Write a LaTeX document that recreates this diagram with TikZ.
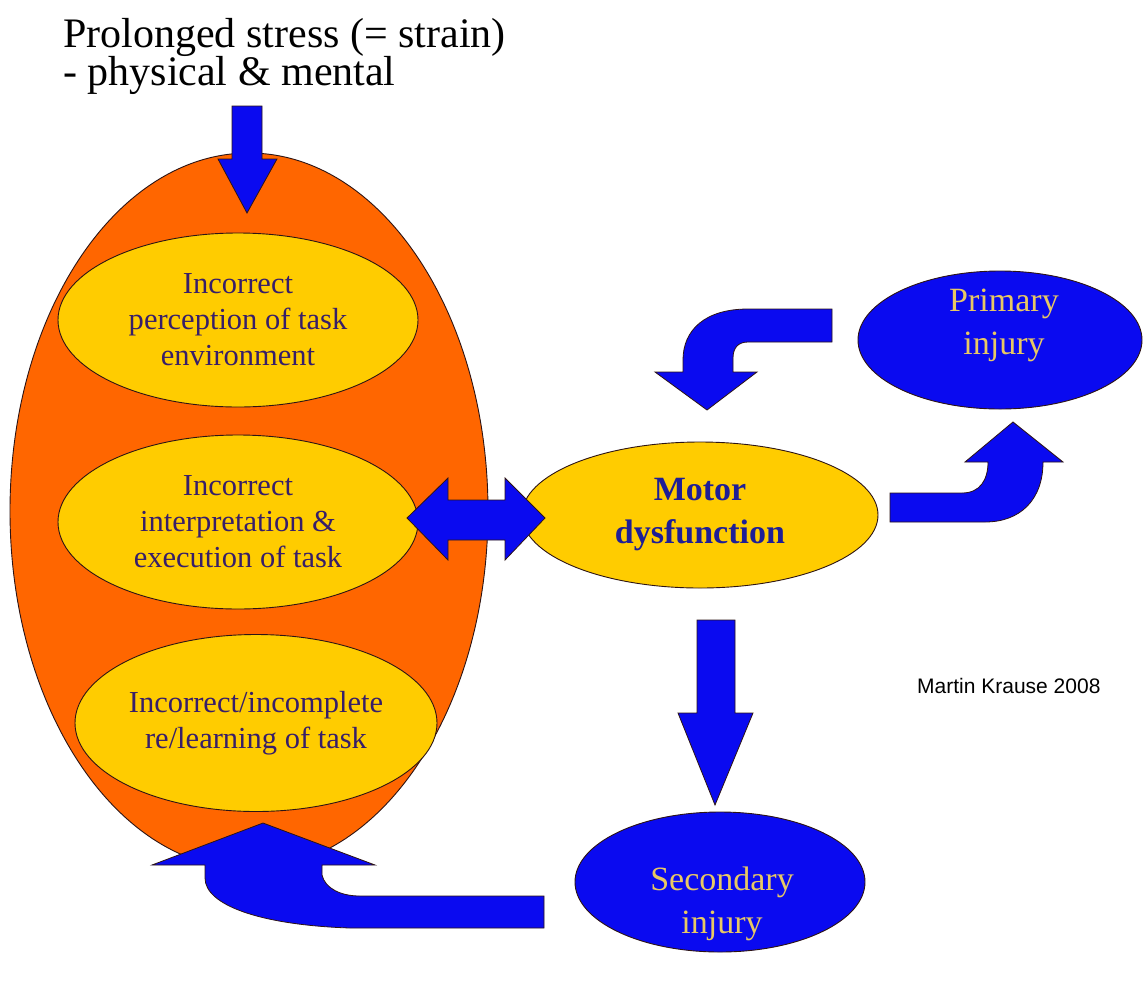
\documentclass[tikz,border=0pt]{standalone}
\usepackage{fontspec}
\setmainfont{Liberation Serif}
\setsansfont{Liberation Sans}
\usetikzlibrary{shapes.geometric}
\definecolor{shellorange}{RGB}{255,102,0}
\definecolor{boxyellow}{RGB}{255,204,0}
\definecolor{flowblue}{RGB}{10,10,240}
\definecolor{inkpurple}{RGB}{55,30,105}
\definecolor{inknavy}{RGB}{30,30,150}
\definecolor{inkgold}{RGB}{232,200,100}
\definecolor{edgeink}{RGB}{45,20,20}

\begin{document}
\begin{tikzpicture}[x=1pt,y=-1pt,
  outline/.style={draw=edgeink, line width=0.9pt},
  oval/.style={ellipse, outline, inner sep=0pt},
  factor/.style={oval, fill=boxyellow, minimum width=360pt, minimum height=174pt,
    text=inkpurple, align=center, font=\fontsize{30.5}{36}\selectfont},
  injury/.style={oval, fill=flowblue},
  injurytext/.style={text=inkgold, align=center, inner sep=0pt,
    font=\fontsize{34}{43}\selectfont},
  blockarrow/.style={fill=flowblue, draw=edgeink, line width=0.8pt, line join=miter}
]
\useasboundingbox[fill=white] (0,0) rectangle (1143,986);

% heading
\node[anchor=base west, inner sep=0pt, font=\fontsize{42}{38}\selectfont] (title1) at (63,47) {Prolonged stress (= strain)};
\node[anchor=base west, inner sep=0pt, font=\fontsize{42}{38}\selectfont] (title2) at (63,85) {- physical \& mental};

% outer shell holding the three factors
\node[oval, fill=shellorange, minimum width=478pt, minimum height=716pt] (shell) at (249,511) {};

% stress entering the shell
\draw[blockarrow] (232,106) -- (262,106) -- (262,159) -- (277,159) -- (247,213)
  -- (218,159) -- (232,159) -- cycle;

% the three factors
\node[factor] (perc) at (238,320) {Incorrect\\perception of task\\environment};
\node[factor] (interp) at (238,522) {Incorrect\\interpretation \&\\execution of task};
\node[factor, minimum width=362pt, minimum height=177pt] (learn) at (256,723) {Incorrect/incomplete\\re/learning of task};

% central outcome
\node[oval, fill=boxyellow, minimum width=356pt, minimum height=146pt, text=inknavy,
  align=center, font=\bfseries\fontsize{34}{43}\selectfont] (motor) at (700,515) {Motor\\dysfunction};

% injuries
\node[injury, minimum width=284pt, minimum height=138pt] (prim) at (1000,340) {};
\node[injurytext] (primtext) at (1004,325) {Primary\\injury};
\node[injury, minimum width=290pt, minimum height=140pt] (sec) at (720,882) {};
\node[injurytext] (sectext) at (722,904) {Secondary\\injury};

% credit line
\node[anchor=west, inner sep=0pt, font=\sffamily\fontsize{21}{22}\selectfont] (credit) at (917,686) {Martin Krause 2008};

% two-way link between the middle factor and motor dysfunction
\draw[blockarrow] (407,518) -- (448,478) -- (448,500) -- (505,500) -- (505,478) -- (545,518)
  -- (505,560) -- (505,540) -- (448,540) -- (448,560) -- cycle;

% motor dysfunction down to secondary injury
\draw[blockarrow] (697,620) -- (735,620) -- (735,713) -- (753,713) -- (715,805)
  -- (678,713) -- (697,713) -- cycle;

% primary injury back to motor dysfunction
\draw[blockarrow] (832,309) -- (748,309) .. controls (705,309) and (683,330) .. (683,360)
  -- (683,372) -- (655,372) -- (707,410) -- (757,372) -- (733,372) -- (733,358)
  .. controls (733,348) and (738,342) .. (748,342) -- (832,342) -- cycle;

% motor dysfunction on to primary injury
\draw[blockarrow] (890,493) -- (962,493) .. controls (980,493) and (988,480) .. (988,462)
  -- (965,462) -- (1013,422) -- (1063,462) -- (1043,462)
  .. controls (1043,500) and (1020,522) .. (985,522) -- (890,522) -- cycle;

% secondary injury feeding back into the shell
\draw[blockarrow] (544,928) -- (350,928) .. controls (260,925) and (205,905) .. (205,878)
  -- (205,865) -- (152,865) -- (263,823) -- (375,865) -- (322,865) -- (322,875)
  .. controls (325,888) and (340,896) .. (360,896) -- (544,896) -- cycle;
\end{tikzpicture}
\end{document}
